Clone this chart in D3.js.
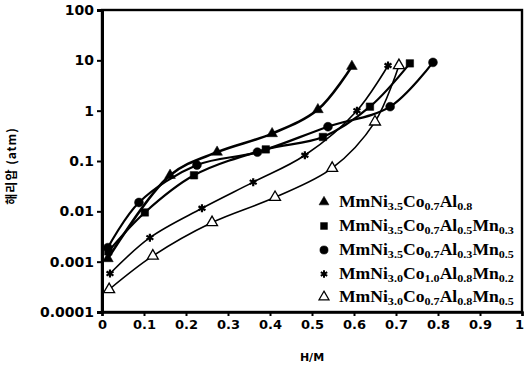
<!DOCTYPE html>
<html>
<head>
<meta charset="utf-8">
<script src="https://cdn.jsdelivr.net/npm/d3@7"></script>
<style>
  body { margin: 0; background: #fff; }
  svg { display: block; }
</style>
</head>
<body>
<div id="chart"></div>
<script>
// values (H/M vs pressure, atm)
const xTicks = [0, 0.1, 0.2, 0.3, 0.4, 0.5, 0.6, 0.7, 0.8, 0.9, 1];
const xTickLabels = ["0", "0.1", "0.2", "0.3", "0.4", "0.5", "0.6", "0.7", "0.8", "0.9", "1"];
const yTicks = [0.0001, 0.001, 0.01, 0.1, 1, 10, 100];
const yTickLabels = ["0.0001", "0.001", "0.01", "0.1", "1", "10", "100"];

const triFilledX = [0.014, 0.162, 0.274, 0.405, 0.514, 0.595];
const triFilledY = [0.00115, 0.052, 0.15, 0.35, 1.05, 7.6];

const squareX = [0.015, 0.102, 0.219, 0.39, 0.526, 0.638, 0.733];
const squareY = [0.0016, 0.0095, 0.052, 0.17, 0.30, 1.2, 8.7];

const circleX = [0.014, 0.088, 0.226, 0.37, 0.538, 0.686, 0.788];
const circleY = [0.0019, 0.015, 0.083, 0.15, 0.48, 1.2, 9.1];

const starX = [0.019, 0.114, 0.238, 0.36, 0.483, 0.607, 0.681];
const starY = [0.00058, 0.003, 0.0115, 0.038, 0.13, 1.0, 7.9];

const triOpenX = [0.017, 0.121, 0.262, 0.412, 0.548, 0.65, 0.707];
const triOpenY = [0.00028, 0.0013, 0.006, 0.019, 0.072, 0.6, 7.9];

// legend names as [text, subscript] pieces
const names = [
  [["MmNi", "3.5"], ["Co", "0.7"], ["Al", "0.8"]],
  [["MmNi", "3.5"], ["Co", "0.7"], ["Al", "0.5"], ["Mn", "0.3"]],
  [["MmNi", "3.5"], ["Co", "0.7"], ["Al", "0.3"], ["Mn", "0.5"]],
  [["MmNi", "3.0"], ["Co", "1.0"], ["Al", "0.8"], ["Mn", "0.2"]],
  [["MmNi", "3.0"], ["Co", "0.7"], ["Al", "0.8"], ["Mn", "0.5"]]
];

const W = 525, H = 368;
const mLeft = 102, mRight = 522, mTop = 10, mBottom = 312;

const svg = d3.select("#chart").append("svg")
  .attr("width", W).attr("height", H);

const x = d3.scaleLinear().domain([0, 1]).range([mLeft, mRight]);
const y = d3.scaleLog().domain([0.0001, 100]).range([mBottom, mTop]);

const series = [
  { xs: triFilledX, ys: triFilledY, sym: d3.symbolTriangle, fill: "#000", w: 2.6, size: 50 },
  { xs: squareX, ys: squareY, sym: d3.symbolSquare, fill: "#000", w: 2.2, size: 56 },
  { xs: circleX, ys: circleY, sym: d3.symbolCircle, fill: "#000", w: 2.2, size: 62 },
  { xs: starX, ys: starY, sym: d3.symbolAsterisk, fill: "none", w: 1.6, size: 45, stroked: true },
  { xs: triOpenX, ys: triOpenY, sym: d3.symbolTriangle, fill: "#fff", w: 1.6, size: 52, open: true }
];

// frame
svg.append("rect")
  .attr("x", mLeft).attr("y", mTop)
  .attr("width", mRight - mLeft).attr("height", mBottom - mTop)
  .attr("fill", "none").attr("stroke", "#000").attr("stroke-width", 2.4);

// y axis
const yAxis = d3.axisLeft(y).tickValues(yTicks)
  .tickFormat((d, i) => yTickLabels[i]).tickSize(5).tickPadding(3);
svg.append("g").attr("transform", `translate(${mLeft},0)`).call(yAxis)
  .call(g => g.select(".domain").attr("stroke-width", 3))
  .call(g => g.selectAll(".tick line").attr("stroke-width", 2))
  .call(g => g.selectAll("text")
    .attr("font-family", "DejaVu Sans, sans-serif")
    .attr("font-weight", "bold").attr("font-size", 14).attr("fill", "#000"));

// x axis
const xAxis = d3.axisBottom(x).tickValues(xTicks)
  .tickFormat((d, i) => xTickLabels[i]).tickSize(4).tickPadding(4);
svg.append("g").attr("transform", `translate(0,${mBottom})`).call(xAxis)
  .call(g => g.select(".domain").attr("stroke-width", 2.5))
  .call(g => g.selectAll(".tick line").attr("stroke-width", 2))
  .call(g => g.selectAll("text")
    .attr("font-family", "DejaVu Sans, sans-serif")
    .attr("font-weight", "bold").attr("font-size", 13).attr("fill", "#000"))
  .call(g => g.selectAll(".tick").filter(d => d === 1).select("text").attr("dx", -3));

// axis titles
svg.append("text")
  .attr("x", x(0.5)).attr("y", 361)
  .attr("text-anchor", "middle")
  .attr("font-family", "DejaVu Sans, sans-serif")
  .attr("font-weight", "bold").attr("font-size", 11)
  .text("H/M");

svg.append("text")
  .attr("transform", "translate(16,166) rotate(-90)")
  .attr("text-anchor", "middle")
  .attr("font-family", "Noto Sans CJK KR, sans-serif")
  .attr("font-weight", "bold").attr("font-size", 12)
  .attr("letter-spacing", 1)
  .text("해리압 (atm)");

// curves
const line = d3.line().curve(d3.curveCatmullRom.alpha(0.5));

series.forEach(s => {
  const pts = s.xs.map((v, i) => [x(v), y(s.ys[i])]);
  svg.append("path")
    .attr("d", line(pts))
    .attr("fill", "none")
    .attr("stroke", "#000")
    .attr("stroke-width", s.w);
});

// markers
series.forEach(s => {
  const sym = d3.symbol().type(s.sym).size(s.size);
  svg.append("g").selectAll("path")
    .data(s.xs.map((v, i) => [x(v), y(s.ys[i])]))
    .join("path")
    .attr("transform", d => `translate(${d[0]},${d[1]})`)
    .attr("d", sym())
    .attr("fill", s.fill)
    .attr("stroke", "#000")
    .attr("stroke-width", s.stroked ? 2.2 : (s.open ? 1.3 : 0.5));
});

// legend
const legY = [203, 227, 251, 275, 298];
const leg = svg.append("g");
series.forEach((s, i) => {
  const sym = d3.symbol().type(s.sym).size(s.size * 0.85);
  leg.append("path")
    .attr("transform", `translate(324,${legY[i] - 1})`)
    .attr("d", sym())
    .attr("fill", s.fill)
    .attr("stroke", "#000")
    .attr("stroke-width", s.stroked ? 2 : (s.open ? 1.2 : 0.5));
  const t = leg.append("text")
    .attr("x", 339).attr("y", legY[i] + 4)
    .attr("font-family", "Liberation Serif, Times New Roman, serif")
    .attr("font-weight", "bold").attr("font-size", 16);
  names[i].forEach(([txt, sub], k) => {
    t.append("tspan").attr("dy", k === 0 ? 0 : -3).text(txt);
    t.append("tspan").attr("font-size", 11).attr("dy", 3).text(sub);
  });
  // the printed face is wider than Times: stretch to the same span
  const natural = t.node().getComputedTextLength();
  t.attr("textLength", natural * 1.1).attr("lengthAdjust", "spacingAndGlyphs");
});
</script>
</body>
</html>
